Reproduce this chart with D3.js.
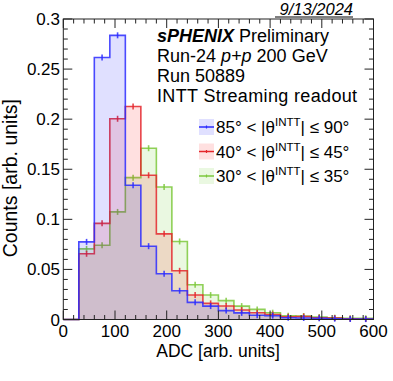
<!DOCTYPE html>
<html>
<head>
<meta charset="utf-8">
<script src="https://cdn.jsdelivr.net/npm/d3@7"></script>
<style>
  html, body { margin: 0; padding: 0; background: #fff; }
  svg { display: block; font-family: "Liberation Sans", Arial, Helvetica, sans-serif; }
</style>
</head>
<body>
<svg id="chart" width="393" height="381"></svg>
<script>
// ---- data ----
const binLow = [0,30,60,90,120,150,180,210,240,270,300,330,360,390,420,450,480,510,540,570];
const binWidth = 30;
const blueVals  = [0,0.0775,0.2615,0.2837,0.134,0.0732,0.0456,0.0287,0.0171,0.0134,0.0089,0.0066,0.0043,0.0038,0.0018,0.0015,0.0012,0.0008,0.0005,0.0004];
const redVals   = [0,0.0656,0.096,0.2004,0.2127,0.144,0.0855,0.0486,0.0244,0.0161,0.0135,0.0095,0.0068,0.005,0.0028,0.003,0.0018,0.0015,0.0008,0.0005];
const greenVals = [0,0.0705,0.0742,0.1074,0.1416,0.171,0.1323,0.0779,0.0347,0.0244,0.0188,0.0134,0.0101,0.0068,0.0038,0.0035,0.0025,0.0018,0.0012,0.0012];
const seriesNames = ["85° < |θ", "40° < |θ", "30° < |θ"];
const seriesTails = ["| ≤ 90°", "| ≤ 45°", "| ≤ 35°"];
const xTicks = [0,100,200,300,400,500,600];
const yTicks = [0,0.05,0.1,0.15,0.2,0.25,0.3];
const yTickLabels = ["0","0.05","0.1","0.15","0.2","0.25","0.3"];
const textLines = ["Run-24", "Run 50889", "INTT Streaming readout"];

const series = [
  {vals: blueVals,  line: "#2b2bff", fill: "rgba(0,0,255,0.12)",   name: seriesNames[0], tail: seriesTails[0]},
  {vals: redVals,   line: "#e4262b", fill: "rgba(255,0,0,0.12)",   name: seriesNames[1], tail: seriesTails[1]},
  {vals: greenVals, line: "#7cc83c", fill: "rgba(90,200,20,0.13)", name: seriesNames[2], tail: seriesTails[2]}
];

const svg = d3.select("#chart");
const x = d3.scaleLinear().domain([0,600]).range([63.3,373.5]);
const y = d3.scaleLinear().domain([0,0.3]).range([319.5,19]);

// ---- histograms (green first, blue on top) ----
const drawOrder = [2,1,0];
drawOrder.forEach(i => {
  const s = series[i];
  const pts = [];
  binLow.forEach((b, k) => {
    pts.push([x(b), y(s.vals[k])]);
    pts.push([x(b + binWidth), y(s.vals[k])]);
  });
  const fillPts = [[x(0), y(0)], ...pts, [x(600), y(0)]];
  svg.append("path")
    .attr("d", d3.line()(fillPts) + "Z")
    .attr("fill", s.fill).attr("stroke", "none");
  svg.append("path")
    .attr("d", d3.line()(pts))
    .attr("fill", "none").attr("stroke", s.line)
    .attr("stroke-width", 1.6).attr("stroke-opacity", 0.85);
  binLow.forEach((b, k) => {
    if (s.vals[k] <= 0) return;
    const cx = x(b + binWidth/2), cy = y(s.vals[k]);
    svg.append("line")
      .attr("x1", cx).attr("x2", cx)
      .attr("y1", cy - 3).attr("y2", cy + 3)
      .attr("stroke", s.line).attr("stroke-width", 1.6).attr("stroke-opacity", 0.85);
  });
});

// ---- frame and ticks ----
const axCol = "#222";
svg.append("rect")
  .attr("x", x(0)).attr("y", y(0.3))
  .attr("width", x(600) - x(0)).attr("height", y(0) - y(0.3))
  .attr("fill", "none").attr("stroke", axCol).attr("stroke-width", 1);

const xMinor = d3.range(0, 601, 20);
xMinor.forEach(v => {
  const major = v % 100 === 0;
  const L = major ? 9 : 4.5;
  svg.append("line").attr("x1", x(v)).attr("x2", x(v)).attr("y1", y(0)).attr("y2", y(0) - L)
    .attr("stroke", axCol).attr("stroke-width", 1);
  svg.append("line").attr("x1", x(v)).attr("x2", x(v)).attr("y1", y(0.3)).attr("y2", y(0.3) + L)
    .attr("stroke", axCol).attr("stroke-width", 1);
});
const yMinor = d3.range(0, 31, 1).map(d => d / 100);
yMinor.forEach((v, k) => {
  const major = k % 5 === 0;
  const L = major ? 9 : 4.5;
  svg.append("line").attr("x1", x(0)).attr("x2", x(0) + L).attr("y1", y(v)).attr("y2", y(v))
    .attr("stroke", axCol).attr("stroke-width", 1);
  svg.append("line").attr("x1", x(600)).attr("x2", x(600) - L).attr("y1", y(v)).attr("y2", y(v))
    .attr("stroke", axCol).attr("stroke-width", 1);
});

// tick labels
xTicks.forEach(v => {
  svg.append("text").attr("x", x(v)).attr("y", 337)
    .attr("text-anchor", "middle").attr("font-size", 17).attr("fill", "#000").text(v);
});
yTicks.forEach((v, k) => {
  svg.append("text").attr("x", 60).attr("y", y(v) + 6)
    .attr("text-anchor", "end").attr("font-size", 17).attr("fill", "#000").text(yTickLabels[k]);
});

// axis titles
svg.append("text").attr("x", 218).attr("y", 357)
  .attr("text-anchor", "middle").attr("font-size", 17.5).text("ADC [arb. units]");
svg.append("text")
  .attr("transform", "translate(16.5,99) rotate(-90)")
  .attr("text-anchor", "end").attr("font-size", 19.5).text("Counts [arb. units]");

// date
svg.append("text").attr("x", 353).attr("y", 15)
  .attr("text-anchor", "end").attr("font-size", 16.5).attr("font-style", "italic")
  .text("9/13/2024");
svg.append("line").attr("x1", 275).attr("x2", 353).attr("y1", 17).attr("y2", 17)
  .attr("stroke", "#000").attr("stroke-width", 1);

// info text
const t0 = svg.append("text").attr("x", 157).attr("y", 42).attr("font-size", 18);
t0.append("tspan").attr("font-weight", "bold").attr("font-style", "italic").text("sPHENIX");
t0.append("tspan").text(" Preliminary");
const t1 = svg.append("text").attr("x", 157).attr("y", 62).attr("font-size", 18);
t1.append("tspan").text(textLines[0] + " ");
t1.append("tspan").attr("font-style", "italic").text("p+p");
t1.append("tspan").text(" 200 GeV");
svg.append("text").attr("x", 157).attr("y", 82).attr("font-size", 18).text(textLines[1]);
svg.append("text").attr("x", 157).attr("y", 101.5).attr("font-size", 18)
  .attr("letter-spacing", 0.35).text(textLines[2]);

// legend
const legY = [127, 151.5, 176];
series.forEach((s, i) => {
  const cy = legY[i];
  svg.append("rect").attr("x", 199).attr("y", cy - 8).attr("width", 15).attr("height", 16)
    .attr("fill", s.fill);
  svg.append("line").attr("x1", 199).attr("x2", 214).attr("y1", cy).attr("y2", cy)
    .attr("stroke", s.line).attr("stroke-width", 1.5);
  svg.append("line").attr("x1", 206.5).attr("x2", 206.5).attr("y1", cy - 1.5).attr("y2", cy + 1.5)
    .attr("stroke", s.line).attr("stroke-width", 1.2);
  const tx = svg.append("text").attr("x", 216).attr("y", cy + 6).attr("font-size", 17);
  tx.append("tspan").text(s.name);
  tx.append("tspan").attr("font-size", 11.5).attr("dy", -7).text("INTT");
  tx.append("tspan").attr("dy", 7).text(s.tail);
});
</script>
</body>
</html>
